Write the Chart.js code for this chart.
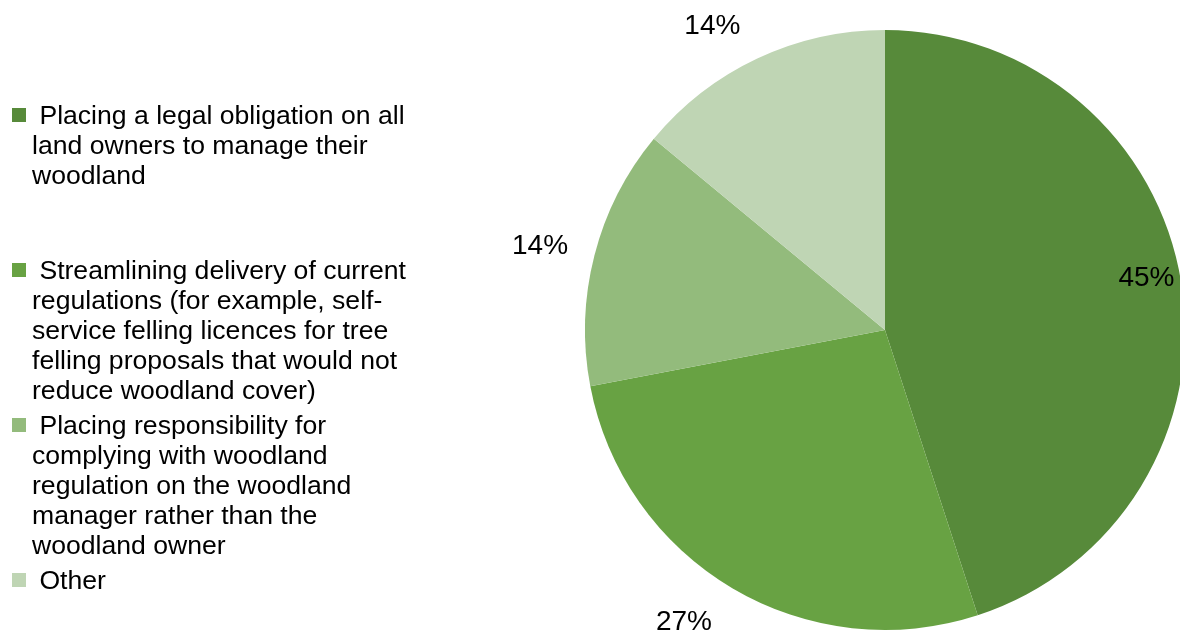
<!DOCTYPE html>
<html>
<head>
<meta charset="utf-8">
<title>Woodland regulation options</title>
<script src="https://cdn.jsdelivr.net/npm/chart.js@4"></script>
<style>
  html, body { margin: 0; padding: 0; background: #fff; overflow: hidden; }
  body { width: 1180px; height: 632px; position: relative; font-family: "Liberation Sans", Arial, sans-serif; }
  #wrap { position: absolute; left: 0; top: 0; width: 1200px; height: 632px; }
  #legend { position: absolute; left: 0; top: 0; width: 480px; height: 632px; z-index: 2; color: #000; }
  .item { position: absolute; left: 0; }
  .swatch { position: absolute; left: 12px; width: 14px; height: 14px; }
  .text { position: absolute; left: 32px; font-size: 26.6px; line-height: 30px; white-space: nowrap; }
</style>
</head>
<body>
<div id="wrap"><canvas id="chart"></canvas></div>
<div id="legend"></div>
<script>
// Response options and their share of answers (%)
const categories = [
  "Placing a legal obligation on all land owners to manage their woodland",
  "Streamlining delivery of current regulations (for example, self-service felling licences for tree felling proposals that would not reduce woodland cover)",
  "Placing responsibility for complying with woodland regulation on the woodland manager rather than the woodland owner",
  "Other"
];
const legendLines = [
  [" Placing a legal obligation on all", "land owners to manage their", "woodland"],
  [" Streamlining delivery of current", "regulations (for example, self-", "service felling licences for tree", "felling proposals that would not", "reduce woodland cover)"],
  [" Placing responsibility for", "complying with woodland", "regulation on the woodland", "manager rather than the", "woodland owner"],
  [" Other"]
];
const shares = [45, 27, 14, 14];
const sliceColours = ["#578A3A", "#68A243", "#93BB7C", "#BFD5B4"];

// Legend block: vertical placement of each entry
const legendTops = [100, 255, 410, 565];
const legendEl = document.getElementById("legend");
categories.forEach((c, i) => {
  const item = document.createElement("div");
  item.className = "item";
  item.style.top = legendTops[i] + "px";
  item.title = c;
  const sw = document.createElement("div");
  sw.className = "swatch";
  sw.style.top = "8px";
  sw.style.background = sliceColours[i];
  const tx = document.createElement("div");
  tx.className = "text";
  tx.style.top = "0px";
  tx.innerHTML = legendLines[i].map(s => s.replace(/^ /, "&nbsp;")).join("<br>");
  item.appendChild(sw);
  item.appendChild(tx);
  legendEl.appendChild(item);
});

// Percentage labels placed around each slice
const sliceLabels = {
  id: "sliceLabels",
  afterDatasetsDraw(chart, args, opts) {
    const ctx = chart.ctx;
    const meta = chart.getDatasetMeta(0);
    const data = chart.data.datasets[0].data;
    ctx.save();
    ctx.font = opts.font;
    ctx.fillStyle = opts.color;
    ctx.textAlign = "center";
    ctx.textBaseline = "middle";
    meta.data.forEach((arc, i) => {
      const p = arc.getProps(["x", "y", "startAngle", "endAngle", "outerRadius"], true);
      const mid = (p.startAngle + p.endAngle) / 2 + opts.angleShift[i] * Math.PI / 180;
      const r = p.outerRadius * opts.radiusFactor[i];
      ctx.fillText(data[i] + "%", p.x + Math.cos(mid) * r, p.y + Math.sin(mid) * r);
    });
    ctx.restore();
  }
};

new Chart(document.getElementById("chart"), {
  type: "pie",
  data: {
    labels: categories,
    datasets: [{
      data: shares,
      backgroundColor: sliceColours,
      borderWidth: 0
    }]
  },
  options: {
    responsive: true,
    maintainAspectRatio: false,
    animation: false,
    events: [],
    layout: { padding: { left: 585, right: 15, top: 30, bottom: 2 } },
    plugins: {
      legend: { display: false },
      tooltip: { enabled: false },
      sliceLabels: {
        font: '28px "Liberation Sans", Arial, sans-serif',
        color: "#000",
        radiusFactor: [0.888, 1.183, 1.183, 1.165],
        angleShift: [-2.1, 3.9, -0.8, -4.4]
      }
    }
  },
  plugins: [sliceLabels]
});
</script>
</body>
</html>
